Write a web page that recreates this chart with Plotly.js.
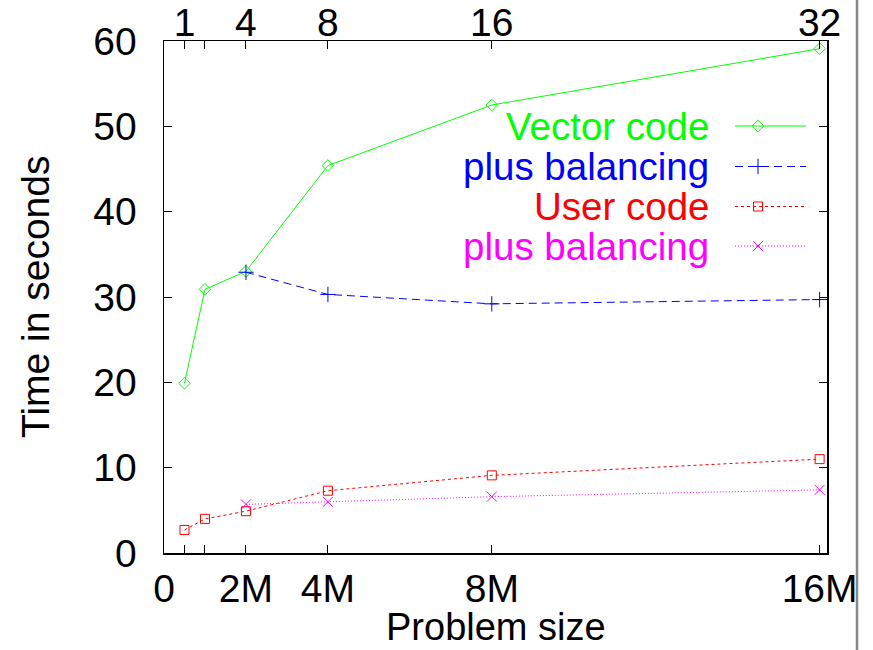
<!DOCTYPE html>
<html>
<head>
<meta charset="utf-8">
<script src="https://cdn.plot.ly/plotly-3.0.1.min.js"></script>
<style>html,body{margin:0;padding:0;background:#fff;}#chart{width:873px;height:650px;}</style>
</head>
<body>
<div id="chart"></div>
<script>
// Problem size in millions of elements
const vectorX = [0.5, 1, 2, 4, 8, 16];
const vectorY = [19.9, 30.9, 33.0, 45.4, 52.5, 59.1];
const vecBalX = [2, 4, 8, 16];
const vecBalY = [32.9, 30.3, 29.2, 29.7];
const userX = [0.5, 1, 2, 4, 8, 16];
const userY = [2.7, 4.0, 4.9, 7.3, 9.1, 11.0];
const userBalX = [2, 4, 8, 16];
const userBalY = [5.7, 6.0, 6.6, 7.4];

const bottomTickVals = [0, 0.5, 1, 2, 4, 8, 16];
const bottomTickText = ["0", "", "", "2M", "4M", "8M", "16M"];
const topTickVals = [0.5, 1, 2, 4, 8, 16];
const topTickText = ["1", "", "4", "8", "16", "32"];
const yTickVals = [0, 10, 20, 30, 40, 50, 60];

const seriesNames = ["Vector code", "plus balancing", "User code", "plus balancing"];
const seriesColors = ["#00ff00", "#0000ff", "#ff0000", "#ff00ff"];

const FONT = "Liberation Sans, Arial, Helvetica, sans-serif";
const FS = 39;
const LFS = 38.5;
const TFS = 38;

const xr = [0, 16.18];
const styles = [
  {dash: "solid", symbol: "diamond-open", size: 9},
  {dash: "8px,5px", symbol: "cross-thin-open", size: 11},
  {dash: "3px,3px", symbol: "square-open", size: 9},
  {dash: "1px,2px", symbol: "x-thin-open", size: 10}
];
const xs = [vectorX, vecBalX, userX, userBalX];
const ys = [vectorY, vecBalY, userY, userBalY];

const traces = [];
for (let i = 0; i < 4; i++) {
  traces.push({
    x: xs[i], y: ys[i], type: "scatter", mode: "lines+markers",
    line: {color: seriesColors[i], width: 1, dash: styles[i].dash},
    marker: {symbol: styles[i].symbol, size: styles[i].size, color: seriesColors[i],
             line: {color: seriesColors[i], width: 1}},
    showlegend: false, hoverinfo: "skip"
  });
}

// Legend samples on a hidden pixel-space overlay axis (key, not data)
const keyRows = [126, 166.5, 206.5, 246];
const keyX0 = 735, keyX1 = 806, keyMark = 758;
for (let i = 0; i < 4; i++) {
  traces.push({
    x: [keyX0, keyX1], y: [keyRows[i], keyRows[i]], xaxis: "x3", yaxis: "y3",
    type: "scatter", mode: "lines",
    line: {color: seriesColors[i], width: 1, dash: styles[i].dash},
    showlegend: false, hoverinfo: "skip"
  });
  traces.push({
    x: [keyMark], y: [keyRows[i]], xaxis: "x3", yaxis: "y3",
    type: "scatter", mode: "markers",
    marker: {symbol: styles[i].symbol, size: styles[i].size, color: seriesColors[i],
             line: {color: seriesColors[i], width: 1}},
    showlegend: false, hoverinfo: "skip"
  });
}
// dummy trace to activate top axis
traces.push({x: [1], y: [0], xaxis: "x2", yaxis: "y", mode: "markers",
  marker: {opacity: 0}, showlegend: false, hoverinfo: "skip"});

const L = 164, R = 827, T = 41, B = 553;
const plotW = R - L, plotH = B - T;
const annY = keyRows.map(v => (B - v) / plotH);
const annX = (711 - L) / plotW;

const annotations = seriesNames.map((n, i) => ({
  text: n, xref: "paper", yref: "paper", x: annX, y: annY[i],
  xanchor: "right", yanchor: "middle", showarrow: false,
  font: {family: FONT, size: LFS, color: seriesColors[i]}
}));
annotations.push({
  text: "Problem size", xref: "paper", yref: "paper",
  x: 0.5, y: (B - 627) / plotH, xanchor: "center", yanchor: "middle", showarrow: false,
  font: {family: FONT, size: TFS, color: "#000"}
});
annotations.push({
  text: "Time in seconds", xref: "paper", yref: "paper", textangle: -90,
  x: (35 - L) / plotW, y: (B - 297) / plotH, xanchor: "center", yanchor: "middle", showarrow: false,
  font: {family: FONT, size: FS, color: "#000"}
});

const layout = {
  width: 873, height: 650,
  margin: {l: L, r: 873 - R, t: T, b: 650 - B, pad: 0},
  paper_bgcolor: "#fff", plot_bgcolor: "#fff",
  showlegend: false,
  font: {family: FONT, size: FS, color: "#000"},
  xaxis: {
    range: xr, tickmode: "array", tickvals: bottomTickVals, ticktext: bottomTickText,
    ticks: "inside", ticklen: 8, tickwidth: 1, tickcolor: "#000",
    showline: true, linecolor: "#000", linewidth: 1.5, mirror: false,
    showgrid: false, zeroline: false, ticklabelstandoff: 1,
    tickfont: {family: FONT, size: FS, color: "#000"}
  },
  xaxis2: {
    overlaying: "x", side: "top", range: xr, tickmode: "array",
    tickvals: topTickVals, ticktext: topTickText,
    ticks: "inside", ticklen: 8, tickwidth: 1, tickcolor: "#000",
    showline: true, linecolor: "#000", linewidth: 1.5,
    showgrid: false, zeroline: false, ticklabelstandoff: -12,
    tickfont: {family: FONT, size: FS, color: "#000"}
  },
  yaxis: {
    range: [0, 60], tickmode: "array", tickvals: yTickVals,
    ticks: "inside", ticklen: 8, tickwidth: 1, tickcolor: "#000",
    showline: true, linecolor: "#000", linewidth: 1.5, mirror: "ticks",
    showgrid: false, zeroline: false, ticklabelstandoff: 18,
    tickfont: {family: FONT, size: FS, color: "#000"}
  },
  xaxis3: {overlaying: "x", range: [L, R], visible: false, fixedrange: true},
  yaxis3: {overlaying: "y", range: [B, T], visible: false, fixedrange: true},
  annotations: annotations,
  shapes: [
    {type: "line", xref: "paper", yref: "paper", x0: (857 - L) / plotW, x1: (857 - L) / plotW,
     y0: (B - 650) / plotH, y1: B / plotH, line: {color: "#888", width: 2.5}}
  ]
};

Plotly.newPlot("chart", traces, layout, {staticPlot: true, displayModeBar: false});
</script>
</body>
</html>
